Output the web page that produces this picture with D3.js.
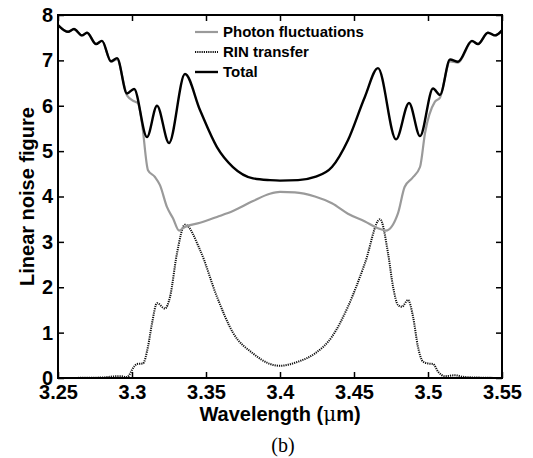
<!DOCTYPE html>
<html><head><meta charset="utf-8">
<script src="https://cdn.jsdelivr.net/npm/d3@7"></script>
<style>body{margin:0;background:#fff}</style>
</head><body>
<svg id="c" width="533" height="458"></svg>
<script>
const xTicks = [3.25, 3.3, 3.35, 3.4, 3.45, 3.5, 3.55];
const yTicks = [0, 1, 2, 3, 4, 5, 6, 7, 8];
const legendLabels = ["Photon fluctuations", "RIN transfer", "Total"];

const totalX = [3.25,3.2568,3.2608,3.2662,3.2696,3.2757,3.2797,3.2858,3.2899,3.2966,3.3014,3.3101,3.3169,3.325,3.3358,3.346,3.3574,3.3682,3.3818,3.3932,3.4,3.4122,3.4236,3.4351,3.4459,3.4574,3.4662,3.4784,3.4872,3.4946,3.5034,3.5081,3.5149,3.5203,3.5297,3.5338,3.5405,3.5453,3.55];
const totalY = [7.78,7.63,7.69,7.55,7.61,7.36,7.43,6.98,7.05,6.27,6.37,5.31,6.0,5.18,6.70,5.9,5.09,4.65,4.40,4.36,4.35,4.36,4.43,4.65,5.24,6.2,6.83,5.26,6.06,5.33,6.38,6.24,7.02,6.97,7.43,7.36,7.61,7.55,7.66];

const photonX = [3.25,3.2568,3.2608,3.2662,3.2696,3.2757,3.2797,3.2858,3.2899,3.2966,3.3014,3.304,3.3068,3.3108,3.3155,3.3189,3.3236,3.3277,3.3318,3.3358,3.346,3.3574,3.3682,3.3818,3.3932,3.4,3.41,3.4236,3.4351,3.4459,3.4574,3.4662,3.4715,3.4797,3.4842,3.4892,3.4946,3.498,3.5047,3.5081,3.5149,3.5203,3.5297,3.5338,3.5405,3.5453,3.55];
const photonY = [7.78,7.63,7.69,7.55,7.61,7.36,7.43,6.97,7.02,6.23,6.10,6.06,5.6,4.58,4.43,4.25,3.77,3.52,3.25,3.33,3.42,3.55,3.68,3.90,4.06,4.10,4.09,4.0,3.85,3.62,3.45,3.30,3.25,3.63,4.21,4.40,4.65,5.4,6.09,6.18,6.98,6.95,7.42,7.36,7.61,7.55,7.66];

const rinX = [3.25,3.28,3.2858,3.2925,3.2966,3.3014,3.3034,3.3074,3.3108,3.3135,3.3169,3.3223,3.3257,3.3304,3.3358,3.346,3.3574,3.3682,3.3818,3.3932,3.4,3.4122,3.4236,3.4351,3.4459,3.4574,3.4676,3.473,3.4764,3.4797,3.4824,3.4865,3.4899,3.4932,3.4966,3.5,3.5034,3.5068,3.5115,3.5182,3.525,3.55];
const rinY = [0.0,0.01,0.03,0.04,0.02,0.25,0.31,0.32,0.69,1.2,1.65,1.53,1.79,2.75,3.38,2.82,1.79,1.0,0.54,0.31,0.27,0.36,0.54,0.91,1.57,2.53,3.5,2.75,2.01,1.61,1.57,1.72,1.35,0.69,0.36,0.32,0.31,0.14,0.04,0.06,0.02,0.0];

const svg = d3.select("#c");
const L = 58, R = 502, T = 15, B = 378;
const x = d3.scaleLinear().domain([3.25, 3.55]).range([L, R]);
const y = d3.scaleLinear().domain([0, 8]).range([B, T]);
const font = "'Liberation Sans', Arial, sans-serif";

svg.append("clipPath").attr("id","clp").append("rect")
  .attr("x", L).attr("y", T).attr("width", R-L).attr("height", B-T);

const line = d3.line().x(d => x(d[0])).y(d => y(d[1])).curve(d3.curveMonotoneX);
const g = svg.append("g").attr("clip-path","url(#clp)");

g.append("path").datum(rinX.map((v,i)=>[v, rinY[i]]))
  .attr("d", line).attr("fill","none").attr("stroke","#111")
  .attr("stroke-width",2).attr("stroke-dasharray","1.2,1");
g.append("path").datum(photonX.map((v,i)=>[v, photonY[i]]))
  .attr("d", line).attr("fill","none").attr("stroke","#9a9a9a").attr("stroke-width",2.2);
g.append("path").datum(totalX.map((v,i)=>[v, totalY[i]]))
  .attr("d", line).attr("fill","none").attr("stroke","#000").attr("stroke-width",2.4);

const ax = (gen, tr) => {
  const a = svg.append("g").attr("transform", tr).call(gen);
  a.select(".domain").remove();
  a.selectAll("line").attr("stroke","#000").attr("stroke-width",1.5);
  return a;
};
const bx = ax(d3.axisBottom(x).tickValues(xTicks).tickSize(-6).tickPadding(5).tickFormat(d3.format("")), `translate(0,${B})`);
bx.selectAll("text").attr("font-family", font).attr("font-weight","bold").attr("font-size",20).attr("fill","#000").attr("dy","0.8em");
ax(d3.axisTop(x).tickValues(xTicks).tickSize(-6).tickFormat(""), `translate(0,${T})`);
const ly = ax(d3.axisLeft(y).tickValues(yTicks).tickSize(-6).tickPadding(5), `translate(${L},0)`);
ly.selectAll("text").attr("font-family", font).attr("font-weight","bold").attr("font-size",20).attr("fill","#000");
ax(d3.axisRight(y).tickValues(yTicks).tickSize(-6).tickFormat(""), `translate(${R},0)`);

svg.append("rect").attr("x",L).attr("y",T).attr("width",R-L).attr("height",B-T)
  .attr("fill","none").attr("stroke","#000").attr("stroke-width",2);

const styles = [
  {stroke:"#9a9a9a", dash:null, w:2.2},
  {stroke:"#111", dash:"1.2,1", w:2},
  {stroke:"#000", dash:null, w:2.4}
];
legendLabels.forEach((t,i) => {
  const yy = 32 + i*20;
  svg.append("line").attr("x1",195).attr("x2",218).attr("y1",yy).attr("y2",yy)
    .attr("stroke",styles[i].stroke).attr("stroke-width",styles[i].w)
    .attr("stroke-dasharray",styles[i].dash);
  svg.append("text").attr("x",223).attr("y",yy).attr("dy","0.35em")
    .attr("font-family",font).attr("font-weight","bold").attr("font-size",15).text(t);
});

svg.append("text").attr("transform",`translate(34,${(T+B)/2}) rotate(-90)`)
  .attr("text-anchor","middle").attr("font-family",font).attr("font-weight","bold")
  .attr("font-size",20).text("Linear noise figure");
const xt = svg.append("text").attr("x",280).attr("y",421).attr("text-anchor","middle")
  .attr("font-family",font).attr("font-weight","bold").attr("font-size",20);
xt.append("tspan").text("Wavelength (");
xt.append("tspan").attr("font-weight","normal").attr("font-family","'DejaVu Serif', serif").text("μ");
xt.append("tspan").text("m)");
svg.append("text").attr("x",283).attr("y",452).attr("text-anchor","middle")
  .attr("font-family","'Liberation Serif', 'Times New Roman', serif").attr("font-size",20).text("(b)");
</script>
</body></html>
